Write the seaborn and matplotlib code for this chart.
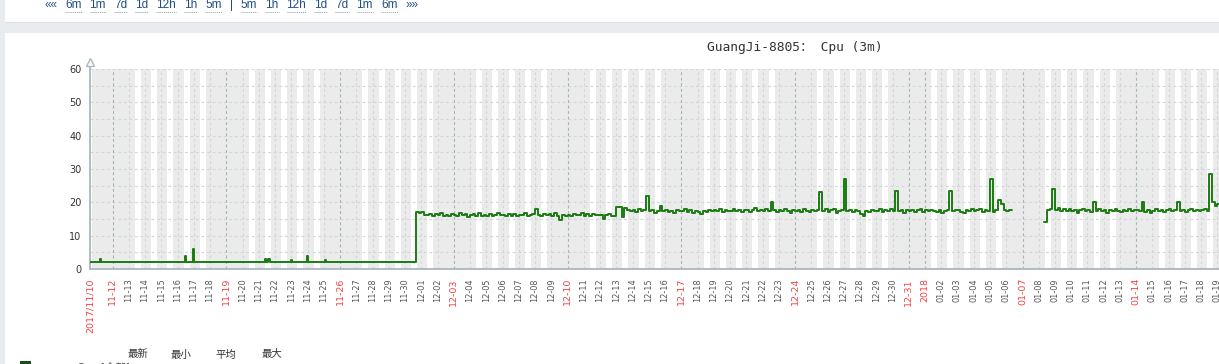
import pandas as pd
import matplotlib
matplotlib.use('Agg')
import matplotlib.pyplot as plt
import matplotlib.dates as mdates
import seaborn as sns
from matplotlib.lines import Line2D
from matplotlib.patches import Rectangle
from matplotlib.ticker import MultipleLocator

W, H = 1219, 364

# ---- values ----
# quiet period: flat ~2.2 with a few short spikes
nov_times = ['2017-11-10 14:46', '2017-11-11 05:30', '2017-11-11 07:30',
             '2017-11-16 10:40', '2017-11-16 12:40', '2017-11-16 22:30',
             '2017-11-17 00:30', '2017-11-21 09:00', '2017-11-21 11:00',
             '2017-11-21 14:00', '2017-11-21 16:00', '2017-11-22 23:00',
             '2017-11-23 01:00', '2017-11-23 22:50', '2017-11-24 00:50',
             '2017-11-25 02:00', '2017-11-25 04:00']
nov_cpu = [2.2, 3.1, 2.2, 4.0, 2.2, 6.1, 2.2, 3.1, 2.2, 3.0, 2.2, 2.7,
           2.2, 4.0, 2.2, 2.6, 2.2]

# 4-hour samples starting 2017-11-30 16:00 (00,04,08,12,16,20 per day)
dec_start = '2017-11-30 16:00'
dec_a_cpu = [
    17.2, 16.8,                          # 11-30
    17.0, 16.3, 16.1, 16.6, 15.9, 16.4,  # 12-01
    16.2, 16.8, 16.0, 16.3, 15.8, 16.5,
    16.1, 16.0, 16.9, 16.2, 16.4, 15.7,
    16.2, 16.6, 16.0, 16.8, 15.9, 16.3,
    16.0, 16.5, 15.8, 16.2, 16.7, 16.1,  # 12-05
    16.3, 15.9, 16.4, 16.0, 16.6, 15.8,
    16.2, 16.1, 16.9, 15.9, 16.3, 16.5,
    18.0, 16.2, 16.0, 16.6, 16.1, 16.4,
    16.0, 16.7, 15.8, 14.8, 16.2, 16.0,
    16.3, 15.9, 16.6, 16.1, 16.2, 16.8,  # 12-10
    16.0, 16.4, 15.9, 16.5, 16.1, 16.3,
    16.2, 15.1, 16.1, 16.4, 15.9, 16.0,  # 12-12
]
dec_b_cpu = [
    18.6, 18.6, 15.5, 18.4, 17.8, 17.5,  # 12-13
    17.6, 17.2, 17.9, 17.4, 17.8, 22.0,
    17.3, 17.7, 16.9, 17.5, 19.0, 17.4,  # 12-15
    17.8, 17.2, 17.5, 16.8, 17.6, 17.3,
    17.5, 17.9, 17.2, 17.6, 16.9, 17.4,
    17.2, 16.6, 17.5, 17.0, 17.8, 17.3,
    17.6, 17.4, 18.1, 17.2, 17.7, 17.5,
    17.3, 17.9, 17.4, 17.8, 17.1, 17.6,  # 12-20
    17.8, 17.2, 17.6, 18.2, 17.4, 17.7,
    17.5, 17.9, 17.3, 20.2, 17.6, 17.2,
    17.8, 17.4, 18.0, 17.3, 16.8, 17.6,
    17.4, 17.8, 17.2, 17.9, 17.5, 17.1,
    17.7, 17.3, 17.8, 23.2, 17.4, 17.9,  # 12-25
    17.2, 17.6, 17.9, 16.9, 17.5, 17.8,
    27.0, 17.4, 17.7, 17.1, 17.8, 17.3,
    16.4, 15.9, 17.4, 17.0, 17.8, 17.5,
    17.3, 17.9, 17.2, 17.6, 17.4, 18.0,
    17.5, 23.5, 17.3, 17.8, 16.9, 17.6,  # 12-30
    17.4, 17.8, 17.1, 17.6, 18.0, 17.2,
    17.6, 17.3, 17.8, 17.5, 17.2, 17.7,  # 01-01
    16.9, 17.5, 17.8, 23.5, 17.3, 17.6,
    17.8, 17.2, 16.8, 17.6, 17.4, 18.1,
    17.3, 17.7, 18.0, 17.2, 17.6, 17.4,
    27.0, 17.2, 17.8, 20.8, 19.5, 17.6,  # 01-05
    17.4, 17.8,                          # 01-06, then no data
]

jan_start = '2018-01-08 08:00'
jan_cpu = [
    14.0, 17.6, 17.9, 24.0,              # 01-08
    17.6, 18.2, 17.4, 17.9, 17.3, 18.0,
    17.5, 17.8, 16.9, 17.6, 18.1, 17.4,  # 01-10
    17.8, 17.2, 20.0, 17.5, 17.9, 17.3,
    17.6, 16.8, 17.7, 17.4, 18.0, 17.5,
    17.2, 17.8, 17.5, 17.9, 17.3, 17.6,
    17.8, 17.4, 20.0, 17.2, 17.7, 16.9,  # 01-14
    17.5, 18.0, 17.4, 17.8, 17.2, 17.6,
    17.9, 17.3, 17.7, 20.0, 17.5, 17.8,
    17.2, 17.6, 18.1, 17.4, 17.8, 17.3,
    17.6, 17.9, 17.4, 28.6, 20.0, 18.8,  # 01-18
    19.5, 18.6, 19.8,
]

# build the two continuous pieces (last value repeated to close the step)
dec_cpu = dec_a_cpu + dec_b_cpu
dec_times = pd.date_range(dec_start, periods=len(dec_cpu) + 1, freq='4h')
seg1 = pd.DataFrame({
    'time': list(pd.to_datetime(nov_times)) + list(dec_times),
    'cpu': nov_cpu + dec_cpu + [dec_cpu[-1]],
})
jan_times = pd.date_range(jan_start, periods=len(jan_cpu) + 1, freq='4h')
seg2 = pd.DataFrame({'time': jan_times, 'cpu': jan_cpu + [jan_cpu[-1]]})

# ---- figure ----
sns.set_style('white')
plt.rcParams['font.family'] = ['DejaVu Sans', 'Noto Sans CJK SC']
fig = plt.figure(figsize=(W / 100, H / 100), dpi=100)
fig.patch.set_facecolor('white')

page = '#e9ecef'
fig.add_artist(Rectangle((0, 0), 5 / W, 1, transform=fig.transFigure, color=page, lw=0))
fig.add_artist(Rectangle((0, 1 - 33 / H), 1, 11 / H, transform=fig.transFigure, color=page, lw=0))
fig.add_artist(Line2D([5 / W, 1], [1 - 22 / H] * 2, transform=fig.transFigure, color='#dde1e5', lw=0.8))

# period links at the top
renderer = fig.canvas.get_renderer()
links = ['««', '6m', '1m', '7d', '1d', '12h', '1h', '5m', '|',
         '5m', '1h', '12h', '1d', '7d', '1m', '6m', '»»']
xcur = 44
for tok in links:
    t = fig.text(xcur / W, 1 - 8 / H, tok, ha='left', va='baseline', fontsize=8.5,
                 family='Liberation Sans', color='#1f4f86')
    bb = t.get_window_extent(renderer)
    if tok not in ('««', '|', '»»'):
        fig.add_artist(Line2D([xcur / W, (xcur + bb.width) / W], [1 - 11.5 / H] * 2,
                              transform=fig.transFigure, color='#8a9aaa', lw=0.7, ls=(0, (1, 1))))
    xcur += bb.width + 8

# plot area: 11-12 00:00 sits at x=112.5px, 16.25 px per day
px_day = 16.25
t0 = pd.Timestamp('2017-11-12') - pd.Timedelta(days=(112.5 - 90) / px_day)
right_px = 1310
t1 = t0 + pd.Timedelta(days=(right_px - 90) / px_day)

ax = fig.add_axes([90 / W, (H - 269) / H, (right_px - 90) / W, 200 / H])
ax.set_facecolor('#ebebeb')

# working time (Mon-Fri 09:00-18:00) is white, the rest gray
for day in pd.date_range('2017-11-10', '2018-01-22', freq='D'):
    if day.weekday() < 5:
        ax.axvspan(day + pd.Timedelta(hours=9), day + pd.Timedelta(hours=18),
                   color='white', lw=0, zorder=0.5)

line_col = '#1a7c11'
for seg in (seg1, seg2):
    sns.lineplot(data=seg, x='time', y='cpu', ax=ax, color=line_col, lw=1.4,
                 drawstyle='steps-post', estimator=None, zorder=3)

ax.set_xlim(t0, t1)
ax.set_ylim(0, 60)
ax.set_xlabel('')
ax.set_ylabel('')

# y axis
ax.set_yticks(range(0, 61, 10))
ax.yaxis.set_minor_locator(MultipleLocator(5))
ax.tick_params(axis='y', which='both', length=0, pad=6, labelsize=7, labelcolor='#333333')
ax.grid(axis='y', which='both', color='#cfd7db', ls=(0, (2.5, 2.5)), lw=0.8)

# x axis: one tick per midnight, first tick is the start time
days = pd.date_range('2017-11-12', '2018-01-21', freq='D')
ticks = [t0] + list(days)
labels = ['2017/11/10'] + ['2018' if d == pd.Timestamp('2018-01-01') else d.strftime('%m-%d') for d in days]
red = [True] + [d.weekday() == 6 or d == pd.Timestamp('2018-01-01') for d in days]
ax.set_xticks(mdates.date2num(ticks))
ax.set_xticklabels(labels, rotation=90)
ax.tick_params(axis='x', length=0, pad=6.5)
for lab, r in zip(ax.get_xticklabels(), red):
    if r:
        lab.set_color('#f04545')
        lab.set_fontsize(6.8)
    else:
        lab.set_color('#555555')
        lab.set_fontsize(5.9)
ax.grid(axis='x', which='major', color='#cfd7db', ls=(0, (2.5, 2.5)), lw=0.8)
for d, r in zip(days, red[1:]):
    if r:
        ax.axvline(d, color='#a5b4bb', ls=(0, (2.5, 2.5)), lw=0.8, zorder=1.6)

for s in ('top', 'right', 'left'):
    ax.spines[s].set_visible(False)
ax.spines['bottom'].set_color('#a9b7bf')
ax.spines['bottom'].set_linewidth(1.3)
ax.add_line(Line2D([0, 0], [0, 1.03], transform=ax.transAxes, color='#a9b7bf',
                   lw=1.3, clip_on=False))
ax.plot([0], [1.035], transform=ax.transAxes, marker='^', ms=6, mfc='white',
        mec='#a9b7bf', mew=1, clip_on=False)

# title
fig.text(795 / W, 1 - 47 / H, 'GuangJi-8805： Cpu (3m)', ha='center', va='center',
         fontsize=9.3, family=['DejaVu Sans Mono', 'Noto Sans CJK SC'], color='#333333')

# legend header (bottom)
for x, s in zip([128, 171, 215, 262], ['最新', '最小', '平均', '最大']):
    fig.text(x / W, 1 - 354.5 / H, s, ha='left', va='center', fontsize=7.5,
             family=['Noto Sans CJK SC'], color='#333333')
fig.add_artist(Rectangle((20 / W, 0), 11 / W, 3 / H, transform=fig.transFigure,
                         color='#1b4d1b', lw=0))
fig.text(77 / W, 1 - 362.5 / H, 'Cpu [全部]', ha='left', va='top', fontsize=7.5,
         family=['DejaVu Sans', 'Noto Sans CJK SC'], color='#555555')

fig.savefig('out.png', dpi=100)
print('done')
